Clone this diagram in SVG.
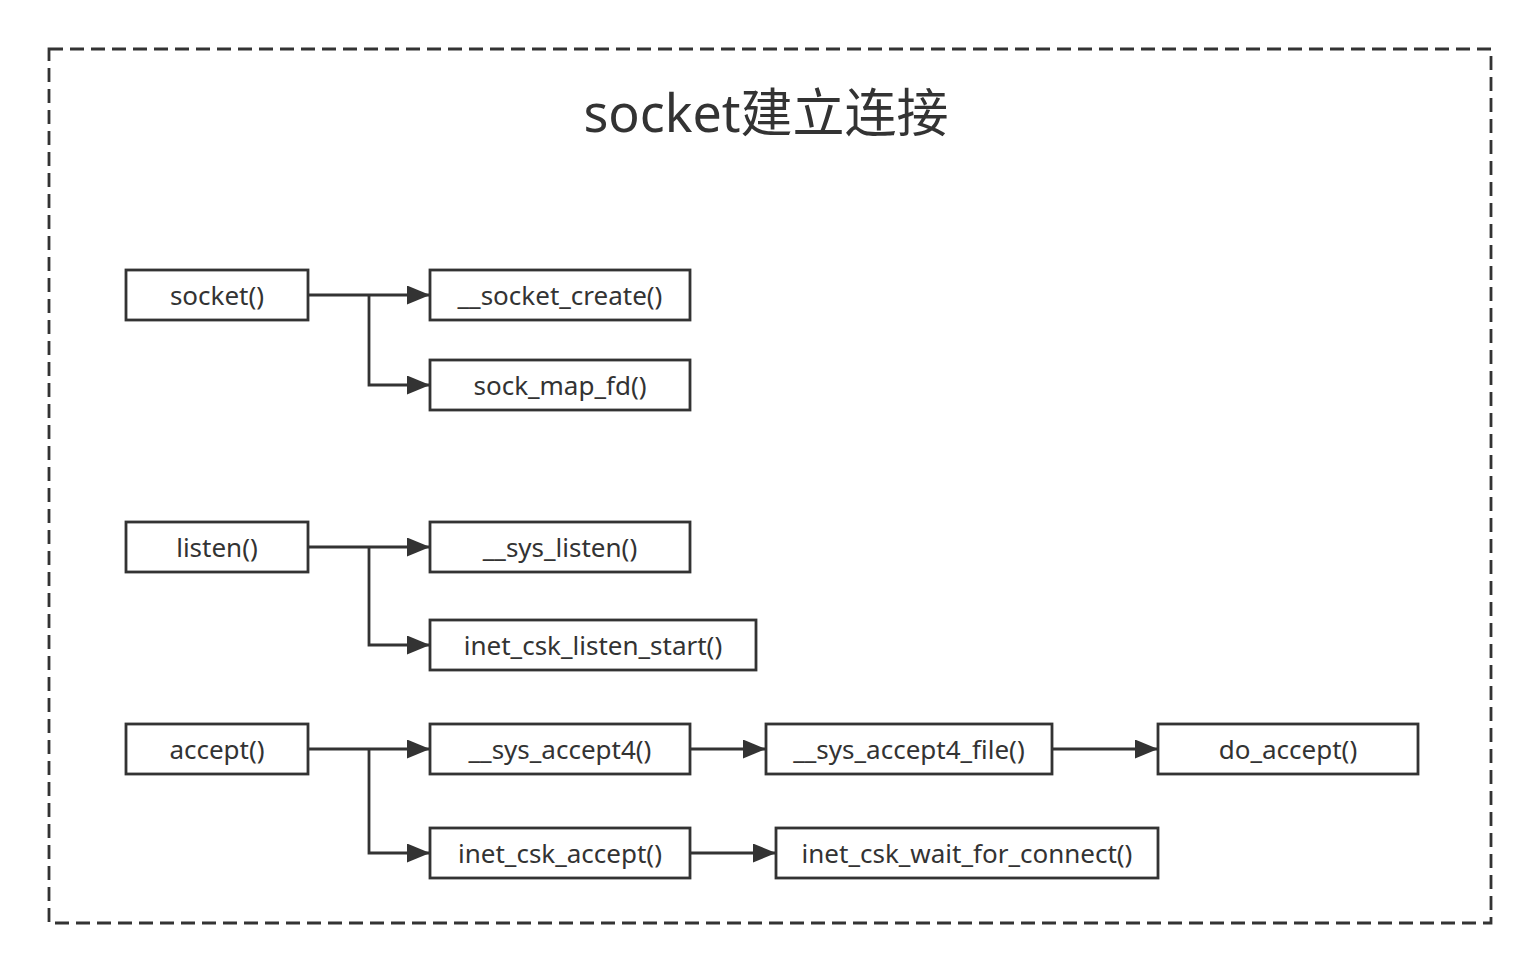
<svg xmlns="http://www.w3.org/2000/svg" width="1540" height="974" viewBox="0 0 1540 974">
<style>
.box{fill:#fff;stroke:#333;stroke-width:2.8}
.lbl{font-family:"Noto Sans","Noto Sans CJK SC",sans-serif;font-size:26px;fill:#333;text-anchor:middle;dominant-baseline:central}
.ttl{font-family:"Noto Sans","Noto Sans CJK SC",sans-serif;font-size:52px;fill:#333;text-anchor:middle}
.edge{fill:none;stroke:#333;stroke-width:2.8}
</style>
<defs>
<marker id="arr" markerUnits="userSpaceOnUse" markerWidth="23" markerHeight="19" refX="23" refY="9.5" orient="auto" viewBox="0 0 23 19">
<path d="M0,0 L23,9.5 L0,19 Z" fill="#333"/>
</marker>
</defs>
<rect width="1540" height="974" fill="#fff"/>
<rect x="49" y="49" width="1442" height="874" fill="none" stroke="#333" stroke-width="2.8" stroke-dasharray="14 7"/>
<text class="ttl" x="766" y="132">socket建立连接</text>
<g id="connectors">
<path class="edge" d="M308,295 H430" marker-end="url(#arr)"/>
<path class="edge" d="M369,295 V385 H430" marker-end="url(#arr)"/>
<path class="edge" d="M308,547 H430" marker-end="url(#arr)"/>
<path class="edge" d="M369,547 V645 H430" marker-end="url(#arr)"/>
<path class="edge" d="M308,749 H430" marker-end="url(#arr)"/>
<path class="edge" d="M369,749 V853 H430" marker-end="url(#arr)"/>
<path class="edge" d="M690,749 H766" marker-end="url(#arr)"/>
<path class="edge" d="M1052,749 H1158" marker-end="url(#arr)"/>
<path class="edge" d="M690,853 H776" marker-end="url(#arr)"/>
</g>
<g id="n-socket"><rect class="box" x="126" y="270" width="182" height="50"/><text class="lbl" x="217" y="295">socket()</text></g>
<g id="n-socket-create"><rect class="box" x="430" y="270" width="260" height="50"/><text class="lbl" x="560" y="295">__socket_create()</text></g>
<g id="n-sock-map-fd"><rect class="box" x="430" y="360" width="260" height="50"/><text class="lbl" x="560" y="385">sock_map_fd()</text></g>
<g id="n-listen"><rect class="box" x="126" y="522" width="182" height="50"/><text class="lbl" x="217" y="547">listen()</text></g>
<g id="n-sys-listen"><rect class="box" x="430" y="522" width="260" height="50"/><text class="lbl" x="560" y="547">__sys_listen()</text></g>
<g id="n-listen-start"><rect class="box" x="430" y="620" width="326" height="50"/><text class="lbl" x="593" y="645">inet_csk_listen_start()</text></g>
<g id="n-accept"><rect class="box" x="126" y="724" width="182" height="50"/><text class="lbl" x="217" y="749">accept()</text></g>
<g id="n-sys-accept4"><rect class="box" x="430" y="724" width="260" height="50"/><text class="lbl" x="560" y="749">__sys_accept4()</text></g>
<g id="n-sys-accept4-file"><rect class="box" x="766" y="724" width="286" height="50"/><text class="lbl" x="909" y="749">__sys_accept4_file()</text></g>
<g id="n-do-accept"><rect class="box" x="1158" y="724" width="260" height="50"/><text class="lbl" x="1288" y="749">do_accept()</text></g>
<g id="n-csk-accept"><rect class="box" x="430" y="828" width="260" height="50"/><text class="lbl" x="560" y="853">inet_csk_accept()</text></g>
<g id="n-wait"><rect class="box" x="776" y="828" width="382" height="50"/><text class="lbl" x="967" y="853">inet_csk_wait_for_connect()</text></g>
</svg>
